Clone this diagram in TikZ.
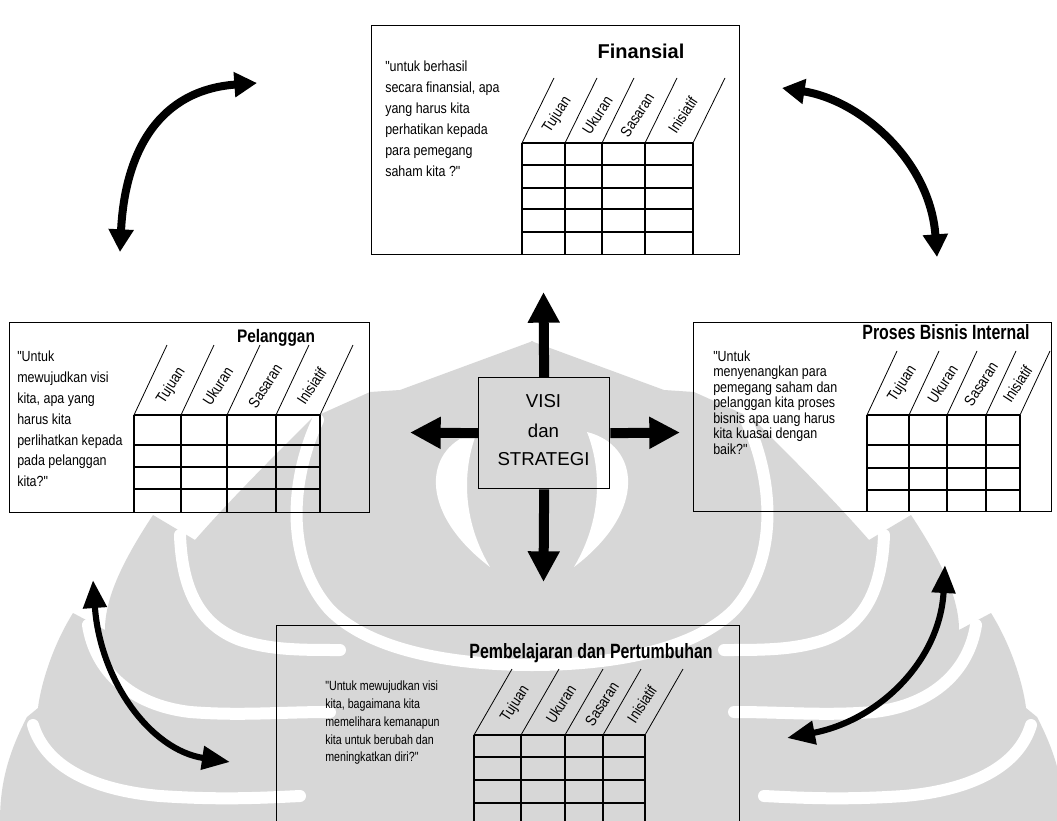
\documentclass[tikz,border=0pt]{standalone}
\usepackage{fontspec}
\setmainfont{Liberation Sans}
\newfontfamily\qfont[FakeStretch=0.85]{Liberation Sans}
\newfontfamily\pfont[FakeStretch=0.80]{Liberation Sans}
\newfontfamily\hfont[FakeStretch=0.77]{Liberation Sans}
\usetikzlibrary{arrows.meta}
\definecolor{wm}{RGB}{215,215,215}

% grid of a perspective panel: column edges, first/last edge, top, bottom, row lines, slant dx, slant dy
\newcommand{\kpigrid}[8]{%
  \foreach \cx in {#1} {
    \draw[gridline] (\cx,#4) -- (\cx,#5);
    \draw[slantline] (\cx,#4) -- ++(#7,#8);
  }
  \foreach \ry in {#4,#6} \draw[gridline] (#2,\ry) -- (#3,\ry);
}
% rotated column heads: prefix, left/right/label triples, top, slant dx, slant rise, height of label centre
\newcommand{\kpiheads}[6]{%
  \foreach \xl/\xr/\lbl in {#2}
    \node[colhead] (#1\lbl) at ({(\xl+\xr)/2+#6*(#4)/(#5)},{#3-#6}) {\lbl};
}

\begin{document}
\begin{tikzpicture}[x=0.75pt,y=-0.75pt,
  panel/.style={draw, line width=1pt, anchor=north west, inner sep=0},
  gridline/.style={line width=1.3pt},
  slantline/.style={line width=0.6pt},
  quote/.style={anchor=north west, inner sep=0, align=left},
  colhead/.style={font=\qfont\fontsize{11.5}{13}\selectfont, rotate=57, inner sep=0},
  title/.style={anchor=base, inner sep=0},
  blockarrow/.style={line width=7.5pt, -{Triangle[width=22.5pt,length=23pt]}},
  swing/.style={line width=6pt, {Triangle[width=18pt,length=17pt]}-{Triangle[width=18pt,length=17pt]}},
  swingthin/.style={line width=4.6pt, {Triangle[width=17pt,length=21pt]}-{Triangle[width=17pt,length=21pt]}},
  emblem/.style={fill=wm},
  emblemgap/.style={draw=white, line width=9pt, line cap=round},
]
\useasboundingbox (0,0) rectangle (1057,821);
\clip (0,0) rectangle (1057,821);
\fill[white] (0,0) rectangle (1057,821);

% ---------- background emblem (left half, then mirrored) ----------
\foreach \side in {1,-1}{
\begin{scope}[xshift={(1-\side)*399pt}, xscale=\side]
  % overall silhouette
  \fill[emblem] (533,341) -- (400,390) -- (370,392) -- (312,418)
     .. controls (270,460) and (230,500) .. (195,540)
     -- (153,515) .. controls (120,565) and (105,600) .. (105,630)
     -- (73,613) .. controls (50,650) and (40,690) .. (38,708)
     -- (27,717) .. controls (10,750) and (0,780) .. (0,821)
     -- (533,821) -- cycle;
  % gaps between the curls
  \draw[emblemgap] (318,420) .. controls (290,480) and (285,560) .. (330,610)
     .. controls (370,650) and (450,665) .. (533,665);
  \draw[emblemgap] (180,535) .. controls (182,590) and (200,625) .. (240,640)
     .. controls (270,650) and (300,650) .. (340,650);
  \draw[emblemgap] (88,625) .. controls (95,670) and (130,705) .. (190,712)
     .. controls (240,716) and (280,712) .. (330,712);
  \draw[emblemgap] (33,725) .. controls (45,765) and (90,790) .. (160,796)
     .. controls (220,800) and (260,798) .. (300,796);
  % white eye beside the centre
  \fill[white] (477,432) .. controls (425,445) and (415,510) .. (490,567)
     .. controls (462,520) and (462,470) .. (477,432) -- cycle;
\end{scope}}

% ---------- Finansial ----------
\node[panel, minimum width=276pt, minimum height=171.75pt] (fin) at (371,25) {};
\node[title, font=\bfseries\fontsize{15}{18}\selectfont] (fint) at (641,58) {Finansial};
\node[quote, font=\qfont\fontsize{11}{15.75}\selectfont] (finq) at (385,60.5)
  {"untuk berhasil\\secara finansial, apa\\yang harus kita\\perhatikan kepada\\para pemegang\\saham kita ?"};
\kpigrid{522,565,602,645,693}{522}{693}{143}{254}{165,188,209,232}{32}{-65}
\kpiheads{fin}{522/565/Tujuan,565/602/Ukuran,602/645/Sasaran,645/693/Inisiatif}{143}{32}{65}{28}

% ---------- Pelanggan ----------
\node[panel, minimum width=270pt, minimum height=142.5pt] (pel) at (9,322) {};
\node[title, font=\qfont\bfseries\fontsize{13.6}{16}\selectfont] (pelt) at (276,342) {Pelanggan};
\node[quote, font=\qfont\fontsize{11}{15.6}\selectfont] (pelq) at (17,351)
  {"Untuk\\mewujudkan visi\\kita, apa yang\\harus kita\\perlihatkan kepada\\pada pelanggan\\kita?"};
\kpigrid{134,181,227,276,320}{134}{320}{415}{512}{445,467,489}{33}{-70}
\kpiheads{pel}{134/181/Tujuan,181/227/Ukuran,227/276/Sasaran,276/320/Inisiatif}{415}{33}{70}{29}

% ---------- Proses Bisnis Internal ----------
\node[panel, minimum width=268.5pt, minimum height=141.75pt] (pro) at (693,322) {};
\node[title, font=\hfont\bfseries\fontsize{15.5}{18}\selectfont] (prot) at (946,339) {Proses Bisnis Internal};
\node[quote, font=\qfont\fontsize{11}{11.6}\selectfont] (proq) at (713,350.5)
  {"Untuk\\menyenangkan para\\pemegang saham dan\\pelanggan kita proses\\bisnis apa uang harus\\kita kuasai dengan\\baik?"};
\kpigrid{867,909,947,986,1020}{867}{1020}{415}{511}{445,468,490}{30}{-64}
\kpiheads{pro}{867/909/Tujuan,909/947/Ukuran,947/986/Sasaran,986/1020/Inisiatif}{415}{30}{64}{31}

% ---------- Pembelajaran dan Pertumbuhan ----------
\node[panel, minimum width=347.25pt, minimum height=165pt] (pem) at (276,625) {};
\node[title, font=\hfont\bfseries\fontsize{15.5}{18}\selectfont] (pemt) at (591,658) {Pembelajaran dan Pertumbuhan};
\node[quote, font=\pfont\fontsize{10}{13.3}\selectfont] (pemq) at (325,681)
  {"Untuk mewujudkan visi\\kita, bagaimana kita\\memelihara kemanapun\\kita untuk berubah dan\\meningkatkan diri?"};
\kpigrid{474,521,565,603,645}{474}{645}{735}{850}{757,780,803}{38}{-66}
\kpiheads{pem}{474/521/Tujuan,521/565/Ukuran,565/603/Sasaran,603/645/Inisiatif}{735}{38}{66}{31}

% ---------- centre ----------
\node[panel, minimum width=98.25pt, minimum height=83.25pt] (visi) at (478,377) {};
\node[anchor=base, inner sep=0, font=\fontsize{14}{16}\selectfont] (visi1) at (543.5,407) {VISI};
\node[anchor=base, inner sep=0, font=\fontsize{14}{16}\selectfont] (visi2) at (543.5,437) {dan};
\node[anchor=base, inner sep=0, font=\fontsize{14}{16}\selectfont] (visi3) at (543.5,465) {STRATEGI};

\coordinate (tipN) at (543.5,292);
\coordinate (tipS) at (543.5,582);
\coordinate (tipW) at (410,432.5);
\coordinate (tipE) at (680,432.5);
\draw[blockarrow] (visi.north) -- (tipN);
\draw[blockarrow] (visi.south) -- (tipS);
\draw[blockarrow] (visi.west) -- (tipW);
\draw[blockarrow] (visi.east) -- (tipE);

% ---------- links between the perspectives ----------
\coordinate (tlA) at (120,252);
\coordinate (tlB) at (257,83);
\coordinate (trA) at (782,88);
\coordinate (trB) at (937,257);
\coordinate (blA) at (93,580);
\coordinate (blB) at (230,762);
\coordinate (brA) at (945,565);
\coordinate (brB) at (787,738);
\draw[swing] (tlA) .. controls (125,150) and (160,90) .. (tlB);
\draw[swing] (trA) .. controls (860,100) and (930,160) .. (trB);
\draw[swingthin] (blA) .. controls (100,680) and (150,750) .. (blB);
\draw[swingthin] (brA) .. controls (940,660) and (880,720) .. (brB);
\end{tikzpicture}
\end{document}
